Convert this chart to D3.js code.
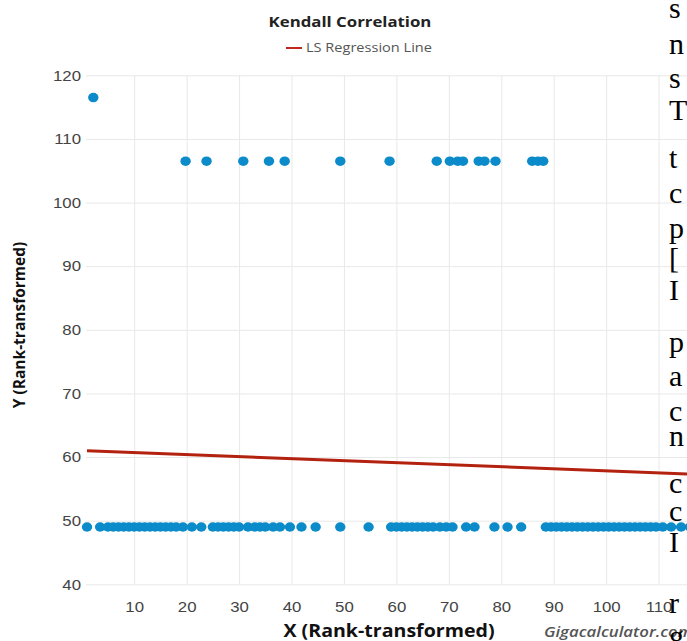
<!DOCTYPE html>
<html lang="en">
<head>
  <meta charset="UTF-8">
  <title>Kendall Correlation</title>
  <script src="https://cdn.jsdelivr.net/npm/d3@7"></script>
  <style>
    body { margin: 0; background: #fff; overflow: hidden; }
  </style>
</head>
<body>
<script>
  // data (rank-transformed values)
  const xTicks = [10, 20, 30, 40, 50, 60, 70, 80, 90, 100, 110, 120]
  const yTicks = [40, 50, 60, 70, 80, 90, 100, 110, 120]
  const yLevels = [116.5, 106.5, 49]
  const xTop = [2.2]
  const xMid = [19.8, 23.8, 30.8, 35.7, 38.7, 49.3, 58.7, 67.7, 70.2, 71.7, 72.7, 75.7, 76.8, 78.9, 85.9, 87.0, 88.0]
  const xLow = [1, 3.5, 5, 6, 7, 8, 9, 10, 11, 12, 13, 14, 15, 16, 17, 18, 19.3, 21, 22.8,
    25, 26, 27, 28, 29, 30, 31.7, 33, 34, 35, 36.5, 37.8, 39.7, 41.9, 44.6, 49.3, 54.7,
    59, 60, 61, 62, 63, 64, 65, 66, 67, 68.3, 69.5, 70.7, 73.3, 74.9, 78.7, 81.2, 83.8,
    88.5, 89.5, 90.5, 91.5, 92.5, 93.5, 94.5, 95.5, 96.5, 97.5, 98.5, 99.5, 100.5, 101.5,
    102.5, 103.5, 104.5, 105.5, 106.5, 107.5, 108.5, 109.5, 110.8, 112.4, 114.3, 116]
  const lineX = [1, 120]
  const lineY = [61.0, 57.2]
  // neighbouring page text that overlaps the screenshot on the right
  const sideLetters = ['s', 'n', 's', 'T', 't', 'c', 'p', '[', 'I', 'p', 'a', 'c', 'n', 'c', 'c', 'I', 'r', 'g']
  const sideBase = [18, 54, 88, 120, 168, 203, 238, 268, 300, 352, 386, 421, 446, 493, 521, 552, 613, 646]

  const width = 687
  const height = 641
  const sx = 1.12 // the screenshot is a little stretched sideways
  const dotColor = '#0b8bc9'
  const lineColor = '#b3210f'
  const gridColor = '#e8e8e8'

  const svg = d3.select('body').append('svg').attr('width', width).attr('height', height)

  const x = d3.scaleLinear().domain([1, 120]).range([87, 711])
  const y = d3.scaleLinear().domain([40, 120]).range([584.3, 75.3])

  function stretch(sel) {
    sel.each(function () {
      const t = d3.select(this)
      const tx = +t.attr('x') || 0
      const ty = +t.attr('y') || 0
      t.attr('transform', `translate(${tx},${ty}) scale(${sx},1) translate(${-tx},${-ty})`)
    })
  }

  // y axis + horizontal grid
  svg.append('g')
    .attr('transform', 'translate(86,0)')
    .call(d3.axisLeft(y).tickValues(yTicks).tickSize(0).tickPadding(5))
    .call(g => g.select('.domain').remove())
    .call(g => g.selectAll('.tick line').attr('x2', width).attr('stroke', gridColor))
    .call(g => g.selectAll('text')
      .style('font-family', '"Liberation Sans", Arial, sans-serif')
      .style('font-size', '15px').attr('fill', '#444').call(stretch))

  // x axis + vertical grid
  svg.append('g')
    .attr('transform', 'translate(0,584.3)')
    .call(d3.axisBottom(x).tickValues(xTicks).tickSize(0).tickPadding(17))
    .call(g => g.select('.domain').remove())
    .call(g => g.selectAll('.tick line').attr('y2', y(120) - y(40)).attr('stroke', gridColor))
    .call(g => g.selectAll('text')
      .style('font-family', '"Liberation Sans", Arial, sans-serif')
      .style('font-size', '15px').attr('fill', '#444').call(stretch))

  // regression line
  svg.append('path')
    .datum(d3.zip(lineX, lineY))
    .attr('fill', 'none')
    .attr('stroke', lineColor)
    .attr('stroke-width', 3)
    .attr('d', d3.line().x(d => x(d[0])).y(d => y(d[1])))

  // points
  const pts = [].concat(
    xTop.map(v => [v, yLevels[0]]),
    xMid.map(v => [v, yLevels[1]]),
    xLow.map(v => [v, yLevels[2]]))
  svg.append('g')
    .attr('fill', dotColor)
    .selectAll('ellipse')
    .data(pts)
    .join('ellipse')
    .attr('cx', d => x(d[0]))
    .attr('cy', d => y(d[1]))
    .attr('rx', 5.2)
    .attr('ry', 4.7)

  // title
  svg.append('text')
    .attr('x', 350).attr('y', 27)
    .attr('text-anchor', 'middle')
    .style('font-family', '"Open Sans", sans-serif')
    .style('font-size', '15px').attr('font-weight', 700)
    .attr('fill', '#222')
    .text('Kendall Correlation')
    .call(stretch)

  // legend
  svg.append('line')
    .attr('x1', 286).attr('x2', 302).attr('y1', 48).attr('y2', 48)
    .attr('stroke', '#c4261a').attr('stroke-width', 2)
  svg.append('text')
    .attr('x', 306).attr('y', 52)
    .style('font-family', '"Open Sans", sans-serif')
    .style('font-size', '13px')
    .attr('fill', '#555')
    .text('LS Regression Line')
    .call(stretch)

  // axis titles
  svg.append('text')
    .attr('x', 389).attr('y', 637)
    .attr('text-anchor', 'middle')
    .style('font-family', '"Open Sans", sans-serif')
    .style('font-size', '17.5px').attr('font-weight', 700)
    .attr('fill', '#111')
    .text('X (Rank-transformed)')
    .call(stretch)

  svg.append('text')
    .attr('transform', 'translate(25,325) rotate(-90)')
    .attr('text-anchor', 'middle')
    .style('font-family', '"Open Sans", sans-serif')
    .style('font-size', '15.5px').attr('font-weight', 700)
    .attr('fill', '#111')
    .text('Y (Rank-transformed)')

  svg.append('text')
    .attr('x', 544).attr('y', 637)
    .style('font-family', '"Open Sans", sans-serif')
    .style('font-size', '15px').style('font-style', 'italic').attr('font-weight', 600)
    .attr('fill', '#555')
    .text('Gigacalculator.com')
    .call(stretch)

  // cut-off page text on the right
  svg.append('g')
    .style('font-family', '"Liberation Serif", "Times New Roman", serif')
    .style('font-size', '30px')
    .attr('fill', '#000')
    .selectAll('text')
    .data(sideLetters)
    .join('text')
    .attr('x', 669)
    .attr('y', (d, i) => sideBase[i])
    .text(d => d)
</script>
</body>
</html>
